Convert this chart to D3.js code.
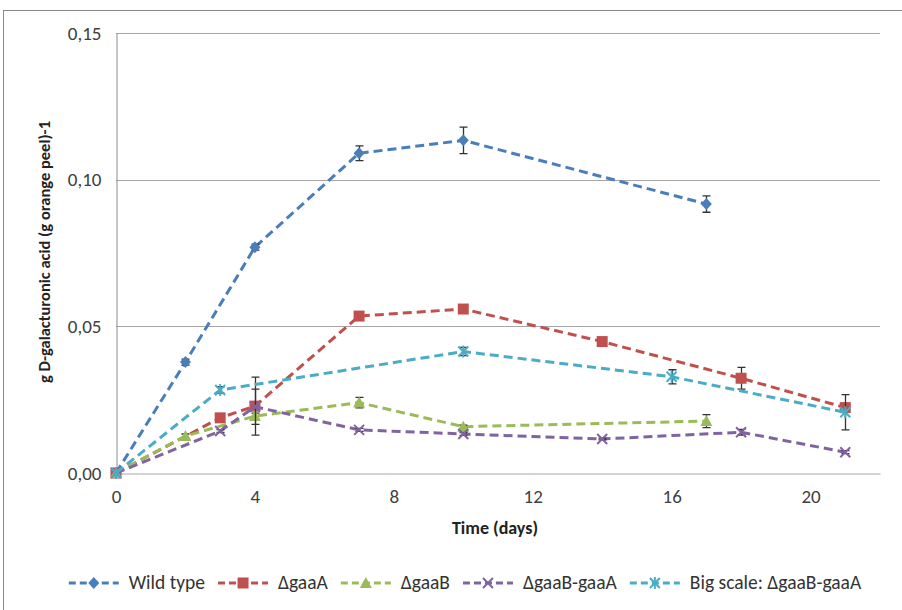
<!DOCTYPE html>
<html>
<head>
<meta charset="utf-8">
<script src="https://cdn.jsdelivr.net/npm/d3@7"></script>
<style>
    body { margin: 0; background: #fff; }
    svg { display: block; }
</style>
</head>
<body>
<script>
(function()
{
    // values
    var wildDays = [0, 2, 4, 7, 10, 17];
    var wildVals = [0, 0.0378, 0.077, 0.109, 0.1134, 0.0917];
    var wildErr  = [0, 0.001, 0.001, 0.0025, 0.0045, 0.0028];

    var gaaADays = [0, 3, 4, 7, 10, 14, 18, 21];
    var gaaAVals = [0, 0.0188, 0.0228, 0.0535, 0.0559, 0.0448, 0.0323, 0.0223];
    var gaaAErr  = [0, 0.001, 0.0099, 0.0005, 0.0005, 0.0005, 0.0037, 0.001];

    var gaaBDays = [0, 2, 4, 7, 10, 17];
    var gaaBVals = [0, 0.0126, 0.0194, 0.024, 0.0158, 0.0177];
    var gaaBErr  = [0, 0.0007, 0.001, 0.0018, 0.0005, 0.0022];

    var dblDays = [0, 3, 4, 7, 10, 14, 18, 21];
    var dblVals = [0, 0.0143, 0.0226, 0.0147, 0.0133, 0.0116, 0.0139, 0.0071];
    var dblErr  = [0, 0.0005, 0.006, 0.0005, 0.0005, 0.0003, 0.001, 0.0005];

    var bigDays = [0, 3, 10, 16, 21];
    var bigVals = [0, 0.0283, 0.0414, 0.0328, 0.0207];
    var bigErr  = [0, 0.0011, 0.0014, 0.0024, 0.006];

    var seriesNames = ["Wild type", "\u0394gaaA", "\u0394gaaB", "\u0394gaaB-gaaA", "Big scale: \u0394gaaB-gaaA"];
    var xTicks = [0, 4, 8, 12, 16, 20];
    var yTicks = [0, 0.05, 0.10, 0.15];

    var series = [
        { name: seriesNames[0], days: wildDays, vals: wildVals, err: wildErr, color: "#4a7ebb", marker: "diamond" },
        { name: seriesNames[1], days: gaaADays, vals: gaaAVals, err: gaaAErr, color: "#c0504d", marker: "square" },
        { name: seriesNames[2], days: gaaBDays, vals: gaaBVals, err: gaaBErr, color: "#9bbb59", marker: "triangle" },
        { name: seriesNames[3], days: dblDays, vals: dblVals, err: dblErr, color: "#8064a2", marker: "x" },
        { name: seriesNames[4], days: bigDays, vals: bigVals, err: bigErr, color: "#4bacc6", marker: "star" }
    ];

    var W = 902, H = 610;
    var left = 116, top = 33, pw = 764, ph = 440;
    var font = "Carlito, Calibri, Lato, sans-serif";

    var svg = d3.select("body").append("svg")
        .attr("width", W)
        .attr("height", H)
        .style("font-family", font);

    // chart border
    svg.append("rect")
        .attr("x", 3.5).attr("y", 10.5)
        .attr("width", W + 10).attr("height", H + 10)
        .attr("fill", "none")
        .attr("stroke", "#888");

    var x = d3.scaleLinear().domain([0, 22]).range([left, left + pw]);
    var y = d3.scaleLinear().domain([0, 0.15]).range([top + ph, top]);

    // gridlines
    svg.append("g").selectAll("line")
        .data(yTicks.slice(1))
        .enter()
        .append("line")
        .attr("x1", left).attr("x2", left + pw)
        .attr("y1", function(d) { return Math.round(y(d)) + 0.5; })
        .attr("y2", function(d) { return Math.round(y(d)) + 0.5; })
        .attr("stroke", "#a6a6a6");

    var fmt = function(d) { return d3.format(".2f")(d).replace(".", ","); };

    var yAxis = svg.append("g")
        .attr("transform", "translate(" + (left + 0.5) + ",0)")
        .call(d3.axisLeft(y).tickValues(yTicks).tickFormat(fmt).tickSize(0).tickPadding(15));
    yAxis.select(".domain").attr("stroke", "#8c8c8c");
    yAxis.selectAll("text").attr("font-size", "19px").attr("fill", "#404040").attr("font-family", font);

    var xAxis = svg.append("g")
        .attr("transform", "translate(0," + (top + ph + 0.5) + ")")
        .call(d3.axisBottom(x).tickValues(xTicks).tickFormat(d3.format("d")).tickSize(0).tickPadding(16));
    xAxis.select(".domain").attr("stroke", "#a6a6a6");
    xAxis.selectAll("text").attr("font-size", "19px").attr("fill", "#404040").attr("font-family", font);

    // axis titles
    svg.append("text")
        .attr("x", 495)
        .attr("y", 534)
        .attr("text-anchor", "middle")
        .attr("font-size", "18px")
        .attr("font-weight", "bold")
        .attr("fill", "#222")
        .text("Time (days)");

    svg.append("text")
        .attr("transform", "translate(50,252) rotate(-90)")
        .attr("text-anchor", "middle")
        .attr("font-size", "16.5px")
        .attr("font-weight", "bold")
        .attr("fill", "#222")
        .text("g D-galacturonic acid (g orange peel)-1");

    var drawMarker = function(g, type, color) {
        if (type == "diamond") {
            g.append("path").attr("d", "M0,-6L5.5,0L0,6L-5.5,0Z").attr("fill", color);
        } else if (type == "square") {
            g.append("rect").attr("x", -5.5).attr("y", -5.5).attr("width", 11).attr("height", 11).attr("fill", color);
        } else if (type == "triangle") {
            g.append("path").attr("d", "M0,-6L6,5L-6,5Z").attr("fill", color);
        } else {
            g.append("path").attr("d", "M-5,-5L5,5M5,-5L-5,5")
                .attr("stroke", color).attr("stroke-width", 2).attr("fill", "none");
            if (type == "star") {
                g.append("path").attr("d", "M0,-6L0,6")
                    .attr("stroke", color).attr("stroke-width", 2);
            }
        }
    };

    var line = d3.line()
        .x(function(d) { return x(d.day); })
        .y(function(d) { return y(d.val); });

    series.forEach(function(s) {
        var pts = s.days.map(function(d, i) { return { day: d, val: s.vals[i], err: s.err[i] }; });
        var g = svg.append("g");

        g.append("path")
            .datum(pts)
            .attr("d", line)
            .attr("fill", "none")
            .attr("stroke", s.color)
            .attr("stroke-width", 3)
            .attr("stroke-dasharray", "9,5");

        g.selectAll(".eb")
            .data(pts.filter(function(d) { return d.err > 0; }))
            .enter()
            .append("path")
            .attr("d", function(d) {
                var cx = Math.round(x(d.day)) + 0.5;
                var y0 = y(d.val - d.err), y1 = y(d.val + d.err);
                return "M" + cx + "," + y0 + "L" + cx + "," + y1 +
                    "M" + (cx - 4) + "," + y0 + "L" + (cx + 4) + "," + y0 +
                    "M" + (cx - 4) + "," + y1 + "L" + (cx + 4) + "," + y1;
            })
            .attr("fill", "none")
            .attr("stroke", "#333")
            .attr("stroke-width", 1.3);

        g.selectAll(".mk")
            .data(pts)
            .enter()
            .append("g")
            .attr("transform", function(d) { return "translate(" + x(d.day) + "," + y(d.val) + ")"; })
            .each(function() { drawMarker(d3.select(this), s.marker, s.color); });
    });

    // legend
    var legend = svg.append("g");
    var items = legend.selectAll("g")
        .data(series)
        .enter()
        .append("g");
    items.append("line")
        .attr("x1", 0).attr("x2", 50)
        .attr("y1", 0).attr("y2", 0)
        .attr("stroke", function(d) { return d.color; })
        .attr("stroke-width", 3)
        .attr("stroke-dasharray", "7,4");
    items.append("g")
        .attr("transform", "translate(25,0)")
        .each(function(d) { drawMarker(d3.select(this), d.marker, d.color); });
    items.append("text")
        .attr("x", 60)
        .attr("y", 6)
        .attr("font-size", "19.5px")
        .attr("fill", "#333")
        .text(function(d) { return d.name; });

    var pos = 0;
    var offs = [];
    items.each(function() {
        offs.push(pos);
        pos += 60 + d3.select(this).select("text").node().getComputedTextLength() + 13;
    });
    var total = pos - 13;
    var startX = 465 - total / 2;
    items.attr("transform", function(d, i) { return "translate(" + (startX + offs[i]) + ",583)"; });
})();
</script>
</body>
</html>
